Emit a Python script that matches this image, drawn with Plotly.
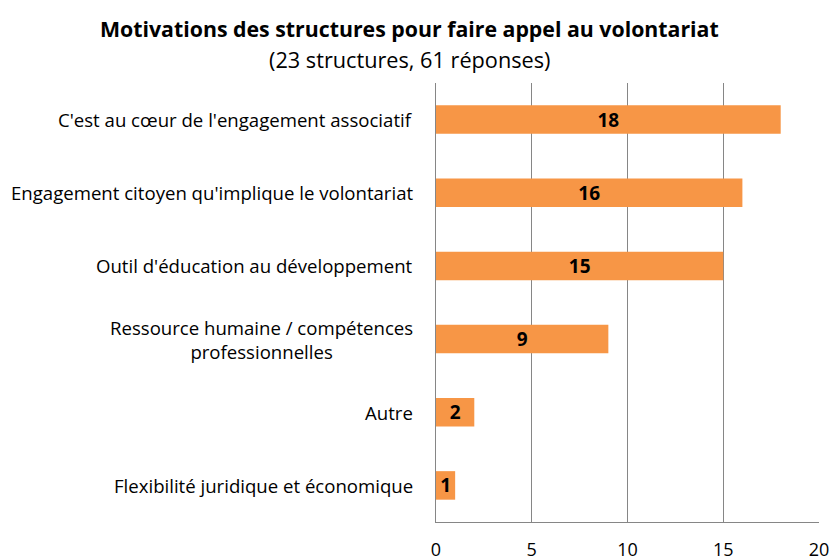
import plotly.graph_objects as go

categories = [
    "C'est au cœur de l'engagement associatif",
    "Engagement citoyen qu'implique le volontariat",
    "Outil d'éducation au développement",
    "Ressource humaine / compétences<br>professionnelles",
    "Autre",
    "Flexibilité juridique et économique",
]
values = [18, 16, 15, 9, 2, 1]
x_ticks = [0, 5, 10, 15, 20]

title = "Motivations des structures pour faire appel au volontariat"
subtitle = "(23 structures, 61 réponses)"

FONT = "Open Sans"
W, H = 833, 560
L, R, T, B = 436, 14, 83, 38
ph = H - T - B
pw = W - L - R

fig = go.Figure()
fig.add_trace(go.Bar(
    x=values, y=categories, orientation="h",
    marker=dict(color="#F79646", line=dict(width=0)),
    text=[str(v) for v in values],
    textposition="inside", insidetextanchor="middle",
    textangle=0, constraintext="none",
    textfont=dict(family=FONT, size=19, color="black", weight="bold"),
    hoverinfo="skip",
))

annotations = []
for c in categories:
    annotations.append(dict(
        x=0, xref="paper", y=c, yref="y", xanchor="right", yanchor="middle",
        xshift=-21, text=c, showarrow=False, align="center",
        font=dict(family=FONT, size=18.6, color="black"),
    ))

cx = (409 - L) / pw
annotations.append(dict(
    x=cx, xref="paper", y=(522 - 28) / ph, yref="paper", xanchor="center", yanchor="middle",
    text="<b>" + title + "</b>", showarrow=False,
    font=dict(family=FONT, size=21.3, color="black"),
))
annotations.append(dict(
    x=cx, xref="paper", y=(522 - 59) / ph, yref="paper", xanchor="center", yanchor="middle",
    text=subtitle, showarrow=False,
    font=dict(family=FONT, size=21.7, color="black"),
))

fig.update_layout(
    width=W, height=H,
    margin=dict(l=L, r=R, t=T, b=B, pad=0, autoexpand=False),
    plot_bgcolor="white", paper_bgcolor="white",
    showlegend=False,
    bargap=0.61,
    annotations=annotations,
    xaxis=dict(
        range=[0, 20], tickvals=x_ticks, ticktext=[str(t) for t in x_ticks],
        showgrid=True, gridcolor="#868686", gridwidth=1,
        showline=True, linecolor="#868686", linewidth=1,
        zeroline=False, ticks="", ticklabelstandoff=11,
        tickfont=dict(family=FONT, size=18, color="black"),
        fixedrange=True, automargin=False,
    ),
    yaxis=dict(
        categoryorder="array", categoryarray=categories, autorange="reversed",
        showticklabels=False, showgrid=False,
        showline=True, linecolor="#868686", linewidth=1,
        zeroline=False, ticks="", fixedrange=True, automargin=False,
    ),
)

fig.write_html(
    "out.html",
    config={"displayModeBar": False},
    post_script="document.body.style.margin='0';document.body.style.overflow='hidden';",
)
